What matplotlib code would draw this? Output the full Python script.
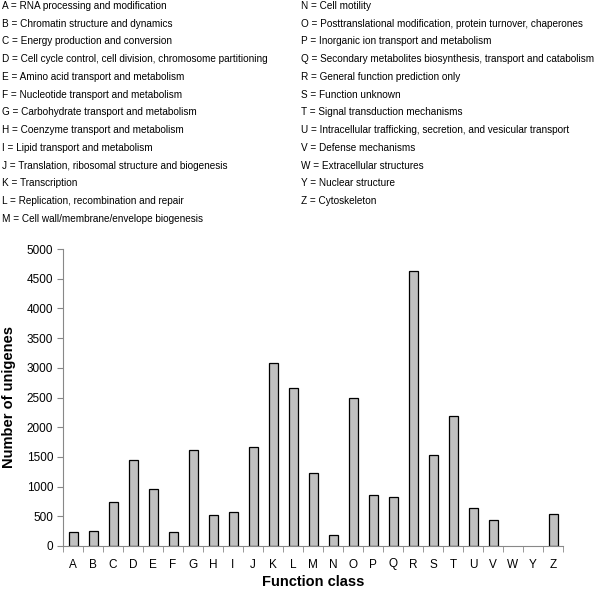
import numpy as np
import matplotlib.pyplot as plt

plt.rcParams['font.family'] = ['Liberation Sans', 'DejaVu Sans']

classes = ['A', 'B', 'C', 'D', 'E', 'F', 'G', 'H', 'I', 'J', 'K', 'L', 'M',
           'N', 'O', 'P', 'Q', 'R', 'S', 'T', 'U', 'V', 'W', 'Y', 'Z']
counts = [230, 247, 742, 1455, 955, 230, 1618, 517, 579, 1674, 3073, 2663, 1225,
          185, 2494, 865, 820, 4624, 1528, 2191, 640, 444, 0, 0, 534]

left_legend = [
    "A = RNA processing and modification",
    "B = Chromatin structure and dynamics",
    "C = Energy production and conversion",
    "D = Cell cycle control, cell division, chromosome partitioning",
    "E = Amino acid transport and metabolism",
    "F = Nucleotide transport and metabolism",
    "G = Carbohydrate transport and metabolism",
    "H = Coenzyme transport and metabolism",
    "I = Lipid transport and metabolism",
    "J = Translation, ribosomal structure and biogenesis",
    "K = Transcription",
    "L = Replication, recombination and repair",
    "M = Cell wall/membrane/envelope biogenesis",
]
right_legend = [
    "N = Cell motility",
    "O = Posttranslational modification, protein turnover, chaperones",
    "P = Inorganic ion transport and metabolism",
    "Q = Secondary metabolites biosynthesis, transport and catabolism",
    "R = General function prediction only",
    "S = Function unknown",
    "T = Signal transduction mechanisms",
    "U = Intracellular trafficking, secretion, and vesicular transport",
    "V = Defense mechanisms",
    "W = Extracellular structures",
    "Y = Nuclear structure",
    "Z = Cytoskeleton",
]

W, H = 600, 590
fig = plt.figure(figsize=(6, 5.9), dpi=100)

# category key at the top
for i, t in enumerate(left_legend):
    fig.text(2 / W, 1 - (6 + i * 17.75) / H, t, fontsize=7.2, va='center', ha='left')
for i, t in enumerate(right_legend):
    fig.text(301 / W, 1 - (6 + i * 17.75) / H, t, fontsize=7.2, va='center', ha='left')

ax = fig.add_axes([63 / W, 1 - 546 / H, 500 / W, 297 / H])
x = np.arange(len(classes))
edges = ['black' if c > 0 else 'none' for c in counts]
ax.bar(x, counts, width=0.45, color='#c0c0c0', edgecolor=edges, linewidth=0.9)

ax.set_xlim(-0.5, len(classes) - 0.5)
ax.set_ylim(0, 5000)
ax.set_yticks(np.arange(0, 5001, 500))
ax.set_xticks(x, classes)
ax.set_xticks(np.arange(-0.5, len(classes), 1), minor=True)
ax.tick_params(axis='x', which='major', length=0, pad=9, labelsize=8.5)
ax.tick_params(axis='x', which='minor', length=4, color='#888888')
ax.tick_params(axis='y', length=4, color='#888888', labelsize=8.5, pad=3)

for s in ['top', 'right']:
    ax.spines[s].set_visible(False)
for s in ['left', 'bottom']:
    ax.spines[s].set_color('#888888')

ax.set_ylabel('Number of unigenes', fontsize=10.5, fontweight='bold', labelpad=8)
ax.set_xlabel('Function class', fontsize=10.5, fontweight='bold', labelpad=3)

fig.savefig('out.png', dpi=100)
